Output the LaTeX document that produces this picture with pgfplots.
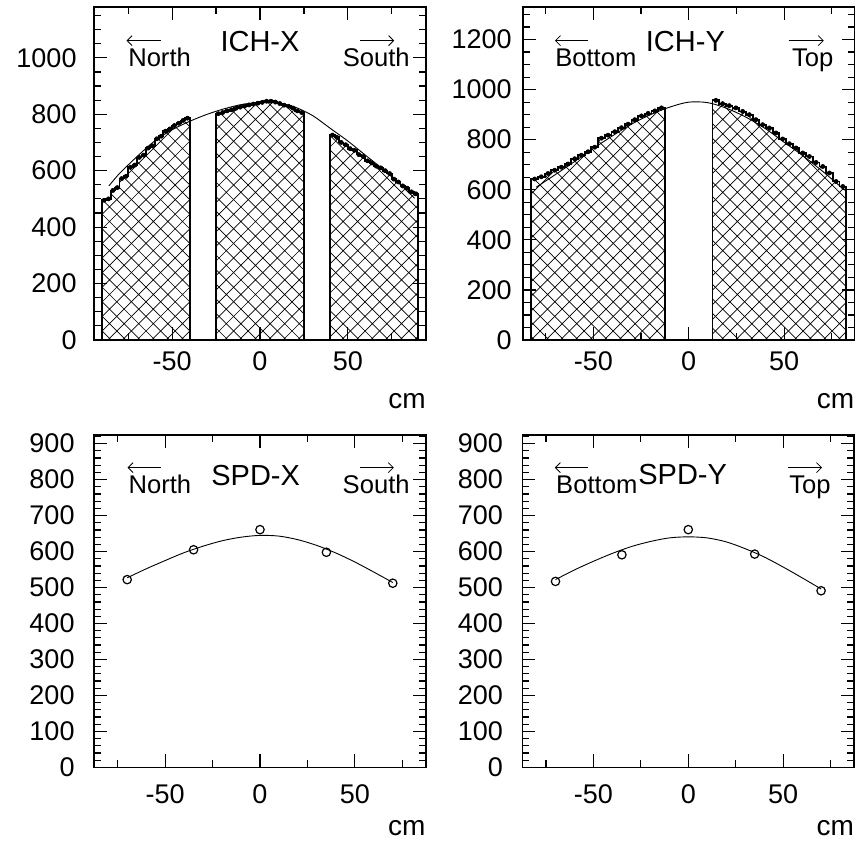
\documentclass[border=0pt]{standalone}
\usepackage{fontspec}
\setmainfont{Liberation Sans}
\usepackage{pgfplots}
\usepackage{pgfplotstable}
\pgfplotsset{compat=1.18}
\usetikzlibrary{patterns,arrows.meta}

\pgfdeclarepatternformonly{diagcross}{\pgfqpoint{-1pt}{-1pt}}{\pgfqpoint{8.3pt}{8.3pt}}{\pgfqpoint{7.3pt}{7.3pt}}{%
  \pgfsetlinewidth{0.35pt}%
  \pgfpathmoveto{\pgfqpoint{0pt}{0pt}}\pgfpathlineto{\pgfqpoint{7.3pt}{7.3pt}}%
  \pgfpathmoveto{\pgfqpoint{0pt}{7.3pt}}\pgfpathlineto{\pgfqpoint{7.3pt}{0pt}}%
  \pgfusepath{stroke}}

\newcommand\ftick{\fontsize{13.5}{13.5}\selectfont}
\newcommand\fcm{\fontsize{14}{14}\selectfont}
\newcommand\ftitle{\fontsize{14.5}{14.5}\selectfont}
\newcommand\fside{\fontsize{12.8}{12.8}\selectfont}

% ICH-X histogram segments (bin left edge, content)
\pgfplotstableread{
x y
-90 495
-87.5 500
-85 530
-82.5 540
-80 572
-77.5 580
-75 612
-72.5 620
-70 647
-67.5 655
-65 680
-62.5 688
-60 713
-57.5 722
-55 740
-52.5 748
-50 760
-47.5 768
-45 778
-42.5 786
-40 786
}\ichxl
\pgfplotstableread{
x y
-25 802
-22.5 806
-20 812
-17.5 816
-15 821
-12.5 825
-10 829
-7.5 833
-5 836
-2.5 839
0 842
2.5 846
5 846
7.5 843
10 838
12.5 832
15 828
17.5 822
20 812
22.5 806
25 806
}\ichxc
\pgfplotstableread{
x y
40 726
42.5 718
45 700
47.5 692
50 678
52.5 672
55 657
57.5 650
60 635
62.5 627
65 616
67.5 610
70 600
72.5 590
75 570
77.5 560
80 546
82.5 538
85 525
87.5 518
90 518
}\ichxr
% ICH-Y histogram segments
\pgfplotstableread{
x y
-82.5 643
-79 652
-75.5 665
-72 678
-68.5 690
-65 703
-61.5 724
-58 738
-54.5 752
-51 770
-47.5 806
-44 818
-40.5 832
-37 848
-33.5 862
-30 880
-26.5 895
-23 905
-19.5 915
-16 927
-12.5 927
}\ichyl
\pgfplotstableread{
x y
12.5 957
16 944
19.5 936
23 927
26.5 913
30 900
33.5 880
37 860
40.5 847
44 827
47.5 803
51 784
54.5 767
58 747
61.5 733
65 709
68.5 693
72 667
75.5 633
79 613
82.5 613
}\ichyr

\tikzset{arr/.style={line width=0.4pt, -{Straight Barb[length=2.5pt,width=5pt]}}}

\pgfplotsset{
  rootax/.style={
    scale only axis, width=166pt, height=166.5pt, anchor=south west,
    axis line style={line width=0.8pt},
    tick align=inside,
    every tick/.style={black, line width=0.6pt},
    major tick length=6.5pt, minor tick length=3.5pt,
    xtick={-50,0,50}, xticklabels={-50,0,50},
    minor xtick={-75,-25,25,75},
    ticklabel style={font=\ftick},
    xticklabel style={yshift=-2.3pt},
    /pgf/number format/assume math mode=true,
    /pgf/number format/1000 sep={},
    scaled y ticks=false,
    xlabel={cm},
    xlabel style={at={(axis description cs:1,0)}, anchor=base east, yshift=-34pt, font=\fcm, inner sep=0pt},
    ymin=0,
  },
  histo/.style={draw=black, line width=0.9pt, pattern=diagcross, const plot mark left},
  hmark/.style={only marks, mark=*, mark size=1pt, black},
  fitc/.style={smooth, black, line width=0.45pt, no marks},
  spdm/.style={only marks, mark=o, mark size=2.1pt, black, mark options={line width=0.6pt}},
}

\begin{document}
\begin{tikzpicture}
\path[use as bounding box] (0,0) rectangle (428pt,421pt);

% ---------------- ICH-X
\begin{axis}[rootax, at={(47pt,251pt)}, xmin=-94.5, xmax=94.5, ymax=1180,
  ytick={0,200,...,1000}, minor ytick={0,50,...,1150},
  yticklabel style={xshift=-5.2pt}]
\addplot[histo] table {\ichxl} \closedcycle;
\addplot[histo] table {\ichxc} \closedcycle;
\addplot[histo] table {\ichxr} \closedcycle;
\addplot[hmark, skip coords between index={20}{21}] table[x expr=\thisrow{x}+1.25, y=y] {\ichxl};
\addplot[hmark, skip coords between index={20}{21}] table[x expr=\thisrow{x}+1.25, y=y] {\ichxc};
\addplot[hmark, skip coords between index={20}{21}] table[x expr=\thisrow{x}+1.25, y=y] {\ichxr};
\addplot[fitc] coordinates {(-86,546) (-80,590) (-70,650) (-60,705) (-50,745) (-40,775) (-30,800) (-20,820) (-10,835) (0,842) (5,843) (10,840) (20,825) (30,795) (40,750) (50,705) (60,655) (70,605) (80,550) (88,502)};
\node[anchor=base, font=\ftitle] at (rel axis cs:0.5,0.865) {ICH-X};
\node[anchor=base west, inner sep=0pt, font=\fside] at (rel axis cs:0.102,0.821) {North};
\node[anchor=base east, inner sep=0pt, font=\fside] at (rel axis cs:0.952,0.821) {South};
\draw[arr] (rel axis cs:0.201,0.899) -- (rel axis cs:0.098,0.899);
\draw[arr] (rel axis cs:0.801,0.899) -- (rel axis cs:0.904,0.899);
\end{axis}

% ---------------- ICH-Y
\begin{axis}[rootax, at={(261.35pt,251pt)}, xmin=-87, xmax=87, ymax=1330,
  ytick={0,200,...,1200}, minor ytick={0,50,...,1300},
  yticklabel style={xshift=-2pt}]
\addplot[histo] table {\ichyl} \closedcycle;
\addplot[histo] table {\ichyr} \closedcycle;
\addplot[hmark, skip coords between index={20}{21}] table[x expr=\thisrow{x}+1.75, y=y] {\ichyl};
\addplot[hmark, skip coords between index={20}{21}] table[x expr=\thisrow{x}+1.75, y=y] {\ichyr};
\addplot[fitc] coordinates {(-80,610) (-70,660) (-60,712) (-50,765) (-40,815) (-30,862) (-20,900) (-10,930) (0,950) (10,948) (20,925) (30,890) (40,845) (50,790) (60,735) (70,675) (80,610) (82,598)};
\node[anchor=base, font=\ftitle] at (rel axis cs:0.49,0.866) {ICH-Y};
\node[anchor=base west, inner sep=0pt, font=\fside] at (rel axis cs:0.097,0.821) {Bottom};
\node[anchor=base east, inner sep=0pt, font=\fside] at (rel axis cs:0.937,0.821) {Top};
\draw[arr] (rel axis cs:0.198,0.899) -- (rel axis cs:0.097,0.899);
\draw[arr] (rel axis cs:0.801,0.899) -- (rel axis cs:0.907,0.899);
\end{axis}

% ---------------- SPD-X
\begin{axis}[rootax, at={(47pt,37.35pt)}, height=166.3pt, xmin=-87.5, xmax=87.5, ymax=925,
  ytick={0,100,...,900}, minor ytick={0,20,...,920},
  yticklabel style={xshift=-6.2pt}, xticklabel style={yshift=-2.7pt}]
\addplot[fitc] coordinates {(-70,527) (-60,552) (-50,575) (-40,597) (-30,615) (-20,630) (-10,640) (0,645) (10,643) (20,633) (30,617) (40,596) (50,571) (60,543) (70,514)};
\addplot[spdm] coordinates {(-70,522) (-35,605) (0,661) (35,598) (70,512)};
\node[anchor=base, font=\ftitle] at (rel axis cs:0.487,0.847) {SPD-X};
\node[anchor=base west, inner sep=0pt, font=\fside] at (rel axis cs:0.103,0.824) {North};
\node[anchor=base east, inner sep=0pt, font=\fside] at (rel axis cs:0.952,0.824) {South};
\draw[arr] (rel axis cs:0.201,0.901) -- (rel axis cs:0.101,0.901);
\draw[arr] (rel axis cs:0.802,0.901) -- (rel axis cs:0.903,0.901);
\end{axis}

% ---------------- SPD-Y
\begin{axis}[rootax, at={(261.15pt,37.35pt)}, height=166.3pt, xmin=-87.5, xmax=87.5, ymax=925,
  ytick={0,100,...,900}, minor ytick={0,20,...,920},
  yticklabel style={xshift=-6.2pt}, xticklabel style={yshift=-2.7pt}]
\addplot[fitc] coordinates {(-70,522) (-60,549) (-50,573) (-40,595) (-30,614) (-20,628) (-10,638) (0,641) (10,638) (20,627) (30,608) (40,585) (50,557) (60,527) (70,496)};
\addplot[spdm] coordinates {(-70,517) (-35,591) (0,661) (35,593) (70,491)};
\node[anchor=base, font=\ftitle] at (rel axis cs:0.483,0.849) {SPD-Y};
\node[anchor=base west, inner sep=0pt, font=\fside] at (rel axis cs:0.101,0.824) {Bottom};
\node[anchor=base east, inner sep=0pt, font=\fside] at (rel axis cs:0.93,0.824) {Top};
\draw[arr] (rel axis cs:0.198,0.901) -- (rel axis cs:0.098,0.901);
\draw[arr] (rel axis cs:0.8,0.901) -- (rel axis cs:0.903,0.901);
\end{axis}
\end{tikzpicture}
\end{document}
